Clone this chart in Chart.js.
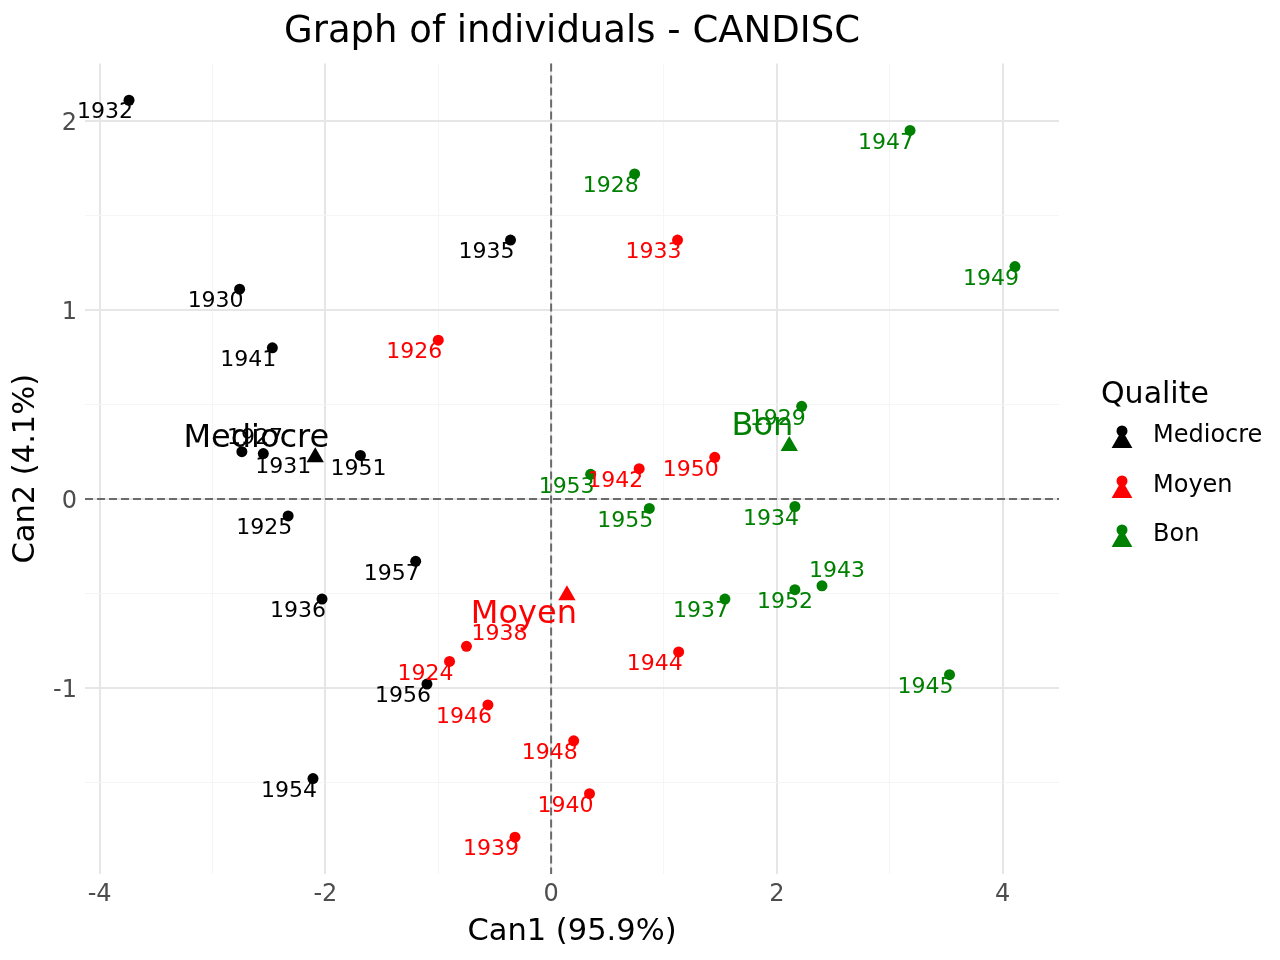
<!DOCTYPE html>
<html>
<head>
<meta charset="utf-8">
<title>Graph of individuals - CANDISC</title>
<script src="https://cdn.jsdelivr.net/npm/chart.js@4.4.1/dist/chart.umd.min.js"></script>
<style>
  html, body { margin: 0; padding: 0; background: #fff; }
</style>
</head>
<body>
<canvas id="indChart" width="1280" height="960"></canvas>
<script>
// groups
var groups = ["Mediocre", "Moyen", "Bon"];
var groupColors = ["#000000", "#ff0000", "#008000"];

// individuals, Mediocre
var mediocreYears = ["1932", "1930", "1941", "1935", "1927", "1931", "1951", "1925", "1957", "1936", "1956", "1954"];
var mediocreCan1 = [-3.74, -2.76, -2.47, -0.36, -2.74, -2.55, -1.69, -2.33, -1.20, -2.03, -1.10, -2.11];
var mediocreCan2 = [2.11, 1.11, 0.80, 1.37, 0.25, 0.24, 0.23, -0.09, -0.33, -0.53, -0.98, -1.48];

// individuals, Moyen
var moyenYears = ["1926", "1933", "1942", "1950", "1938", "1924", "1946", "1944", "1948", "1940", "1939"];
var moyenCan1 = [-1.00, 1.12, 0.78, 1.45, -0.75, -0.90, -0.56, 1.13, 0.20, 0.34, -0.32];
var moyenCan2 = [0.84, 1.37, 0.16, 0.22, -0.78, -0.86, -1.09, -0.81, -1.28, -1.56, -1.79];

// individuals, Bon
var bonYears = ["1947", "1928", "1949", "1929", "1953", "1955", "1934", "1943", "1952", "1937", "1945"];
var bonCan1 = [3.18, 0.74, 4.11, 2.22, 0.35, 0.87, 2.16, 2.40, 2.16, 1.54, 3.53];
var bonCan2 = [1.95, 1.72, 1.23, 0.49, 0.13, -0.05, -0.04, -0.46, -0.48, -0.53, -0.93];

// group centres
var centroidCan1 = [-2.09, 0.14, 2.11];
var centroidCan2 = [0.22, -0.51, 0.28];

// ticks (major + minor grid)
var xTicks = [-4, -3, -2, -1, 0, 1, 2, 3, 4];
var yTicks = [-1.5, -1, -0.5, 0, 0.5, 1, 1.5, 2];

var years = [mediocreYears, moyenYears, bonYears];
var can1 = [mediocreCan1, moyenCan1, bonCan1];
var can2 = [mediocreCan2, moyenCan2, bonCan2];

// label nudges (px) where the repelled labels sit off the default spot
var labelNudge = {
  "1943": [15, -16], "1938": [33, -14], "1931": [20, 12],
  "1951": [-2, 12], "1927": [13, -15], "1952": [-10, 11]
};
// group name offsets (right edge, middle), px
var groupNudge = { "Mediocre": [14, -21], "Moyen": [10, 17], "Bon": [4, -21] };

Chart.defaults.font.family = "'DejaVu Sans', sans-serif";

function isMajorX(v) { return v % 2 === 0; }
function isMajorY(v) { return Number.isInteger(v); }

var datasets = [];
groups.forEach(function (g, i) {
  datasets.push({
    label: g,
    data: can1[i].map(function (v, k) { return { x: v, y: can2[i][k] }; }),
    pointRadius: 5.5,
    pointBackgroundColor: groupColors[i],
    pointBorderWidth: 0,
    showLine: false
  });
});
groups.forEach(function (g, i) {
  datasets.push({
    label: g + " centre",
    data: [{ x: centroidCan1[i], y: centroidCan2[i] }],
    pointStyle: "triangle",
    pointRadius: 10,
    pointBackgroundColor: groupColors[i],
    pointBorderWidth: 0,
    showLine: false
  });
});

var annotate = {
  id: "annotate",
  beforeDatasetsDraw: function (chart) {
    var ctx = chart.ctx, a = chart.chartArea;
    var xs = chart.scales.x, ys = chart.scales.y;
    var x0 = xs.getPixelForValue(0), y0 = ys.getPixelForValue(0);
    ctx.save();
    ctx.strokeStyle = "#6b6b6b";
    ctx.lineWidth = 2;
    ctx.setLineDash([8, 4]);
    ctx.beginPath();
    ctx.moveTo(x0, a.top); ctx.lineTo(x0, a.bottom);
    ctx.moveTo(a.left, y0); ctx.lineTo(a.right, y0);
    ctx.stroke();
    ctx.restore();
  },
  afterDatasetsDraw: function (chart) {
    var ctx = chart.ctx;
    var xs = chart.scales.x, ys = chart.scales.y;
    ctx.save();
    ctx.textAlign = "center";
    ctx.textBaseline = "middle";
    ctx.font = "22px 'DejaVu Sans'";
    groups.forEach(function (g, i) {
      ctx.fillStyle = groupColors[i];
      years[i].forEach(function (yr, k) {
        var px = xs.getPixelForValue(can1[i][k]);
        var py = ys.getPixelForValue(can2[i][k]);
        var n = labelNudge[yr] || [-24, 11];
        ctx.fillText(yr, px + n[0], py + n[1] + 1.5);
      });
    });
    ctx.font = "32px 'DejaVu Sans'";
    ctx.textAlign = "right";
    groups.forEach(function (g, i) {
      var px = xs.getPixelForValue(centroidCan1[i]);
      var py = ys.getPixelForValue(centroidCan2[i]);
      var n = groupNudge[g];
      ctx.fillStyle = groupColors[i];
      ctx.fillText(g, px + n[0], py + n[1] + 2);
    });
    ctx.restore();
  },
  afterDraw: function (chart) {
    var ctx = chart.ctx;
    ctx.save();
    ctx.fillStyle = "#000";
    ctx.textAlign = "left";
    ctx.textBaseline = "middle";
    ctx.font = "30px 'DejaVu Sans'";
    ctx.fillText("Qualite", 1101, 395);
    ctx.font = "24px 'DejaVu Sans'";
    var rows = [436, 486, 535];
    groups.forEach(function (g, i) {
      var cy = rows[i], cx = 1122, r = 12, tc = cy + 6;
      ctx.fillStyle = groupColors[i];
      ctx.beginPath();
      ctx.moveTo(cx, tc - r);
      ctx.lineTo(cx + r * 0.866, tc + r / 2);
      ctx.lineTo(cx - r * 0.866, tc + r / 2);
      ctx.closePath();
      ctx.fill();
      ctx.beginPath();
      ctx.arc(cx, cy - 5, 5.5, 0, Math.PI * 2);
      ctx.fill();
      ctx.fillStyle = "#000";
      ctx.fillText(g, 1153, cy);
    });
    ctx.restore();
  }
};

var indCanvas = document.getElementById("indChart");
var indChart = new Chart(indCanvas, {
  type: "scatter",
  data: { datasets: datasets },
  options: {
    responsive: false,
    animation: false,
    devicePixelRatio: 1,
    layout: { padding: { left: 0, right: 221, top: 0, bottom: 0 } },
    plugins: {
      legend: { display: false },
      tooltip: { enabled: false },
      title: {
        display: true,
        fullSize: false,
        text: "Graph of individuals - CANDISC",
        color: "#000",
        font: { size: 37, weight: "normal" },
        padding: { top: 10, bottom: 9 }
      }
    },
    scales: {
      x: {
        type: "linear",
        min: -4.13,
        max: 4.50,
        afterBuildTicks: function (s) { s.ticks = xTicks.map(function (v) { return { value: v }; }); },
        afterFit: function (s) { s.height = 86; },
        border: { display: false },
        grid: {
          drawTicks: false,
          color: function (c) { return isMajorX(c.tick.value) ? "#e6e6e6" : "#f5f5f5"; },
          lineWidth: function (c) { return isMajorX(c.tick.value) ? 2 : 1; }
        },
        ticks: {
          autoSkip: false,
          maxRotation: 0,
          padding: 6,
          color: "#4d4d4d",
          font: { size: 24 },
          callback: function (v) { return isMajorX(v) ? String(v) : ""; }
        },
        title: {
          display: true,
          text: "Can1 (95.9%)",
          color: "#000",
          font: { size: 30.5 },
          padding: { top: 10, bottom: 10 }
        }
      },
      y: {
        type: "linear",
        min: -1.985,
        max: 2.305,
        afterBuildTicks: function (s) { s.ticks = yTicks.map(function (v) { return { value: v }; }); },
        afterFit: function (s) { s.width = 85; },
        border: { display: false },
        grid: {
          drawTicks: false,
          color: function (c) { return isMajorY(c.tick.value) ? "#e6e6e6" : "#f5f5f5"; },
          lineWidth: function (c) { return isMajorY(c.tick.value) ? 2 : 1; }
        },
        ticks: {
          autoSkip: false,
          padding: 8,
          labelOffset: 3,
          color: "#4d4d4d",
          font: { size: 24 },
          callback: function (v) { return isMajorY(v) ? String(v) : ""; }
        },
        title: {
          display: true,
          text: "Can2 (4.1%)",
          color: "#000",
          font: { size: 30.5 },
          padding: { top: 8, bottom: 8 }
        }
      }
    }
  },
  plugins: [annotate]
});
</script>
</body>
</html>
